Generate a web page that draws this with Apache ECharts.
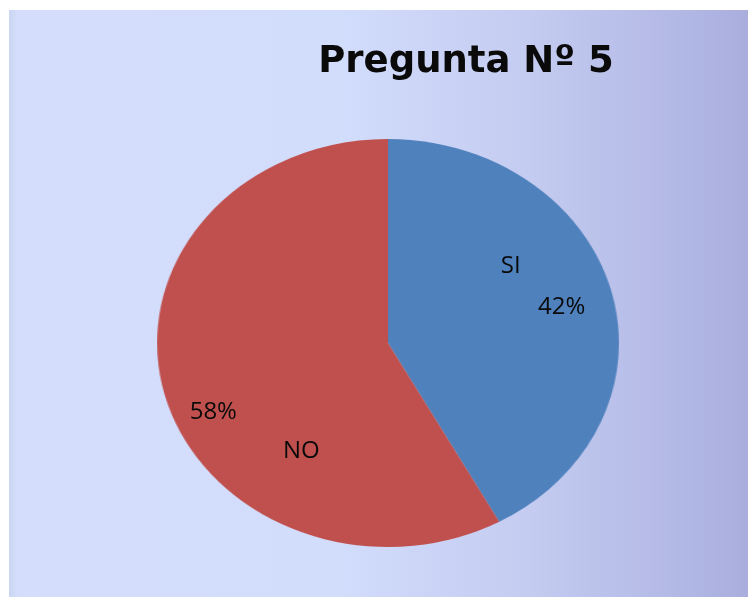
<!DOCTYPE html>
<html><head><meta charset="utf-8">
<script src="https://cdn.jsdelivr.net/npm/echarts@6/dist/echarts.min.js"></script>
<style>
html,body{margin:0;padding:0;background:#fff;}
#wrap{position:relative;width:748px;height:597px;overflow:hidden;background:#fff;}
#bg,#pie,#lbl{position:absolute;left:9px;top:10px;width:739px;height:587px;}
#pie{transform:scaleX(1.132);transform-origin:379px 333px;}
</style></head>
<body><div id="wrap"><div id="bg"></div><div id="pie"></div><div id="lbl"></div></div>
<script>
const titleText = 'Pregunta Nº 5';
const categories = ['SI', 'NO'];
const values = [42, 58];
const colors = ['#4f81bd', '#c0504d'];

const data = categories.map((c, i) => ({ name: c, value: values[i] }));
const center = [379, 333];
const radius = 204;

const bg = echarts.init(document.getElementById('bg'));
bg.setOption({
  backgroundColor: {
    type: 'linear', x: 0, y: 0, x2: 1, y2: 0,
    colorStops: [
      { offset: 0, color: '#cad5f0' },
      { offset: 0.012, color: '#d4defc' },
      { offset: 0.45, color: '#d2dcfb' },
      { offset: 0.7, color: '#c4ccf1' },
      { offset: 0.9, color: '#b3b9e5' },
      { offset: 1, color: '#a9aedd' }
    ]
  },
  title: {
    text: titleText, left: 452, top: 29, textAlign: 'center',
    textStyle: { fontFamily: 'DejaVu Sans', fontWeight: 'bold', fontSize: 37, color: '#0a0a0a' }
  }
});

const pie = echarts.init(document.getElementById('pie'));
pie.setOption({
  color: colors,
  series: [{
    type: 'pie', center: center, radius: radius, startAngle: 90, clockwise: true,
    animation: false, silent: true, data: data,
    label: { show: false }, labelLine: { show: false },
    itemStyle: { borderWidth: 0 }
  }]
});

const nameOffsets = [[21, -51], [15, 82]];
const pctOffsets = [[72, -10], [-73, 43]];
const labelFont = { fontFamily: 'Open Sans', fontSize: 24, color: '#0a0a0a' };
const lbl = echarts.init(document.getElementById('lbl'));
lbl.setOption({
  series: [
    {
      type: 'pie', center: center, radius: radius, startAngle: 90, clockwise: true,
      silent: true, animation: false, data: data,
      itemStyle: { color: 'rgba(0,0,0,0)' },
      label: Object.assign({ show: true, position: 'inside', formatter: '{b}' }, labelFont),
      labelLine: { show: false },
      labelLayout: p => ({ dx: nameOffsets[p.dataIndex][0], dy: nameOffsets[p.dataIndex][1] })
    },
    {
      type: 'pie', center: center, radius: radius, startAngle: 90, clockwise: true,
      silent: true, animation: false, data: data,
      itemStyle: { color: 'rgba(0,0,0,0)' },
      label: Object.assign({ show: true, position: 'inside', formatter: p => Math.round(p.percent) + '%' }, labelFont),
      labelLine: { show: false },
      labelLayout: p => ({ dx: pctOffsets[p.dataIndex][0], dy: pctOffsets[p.dataIndex][1] })
    }
  ]
});
</script></body></html>
